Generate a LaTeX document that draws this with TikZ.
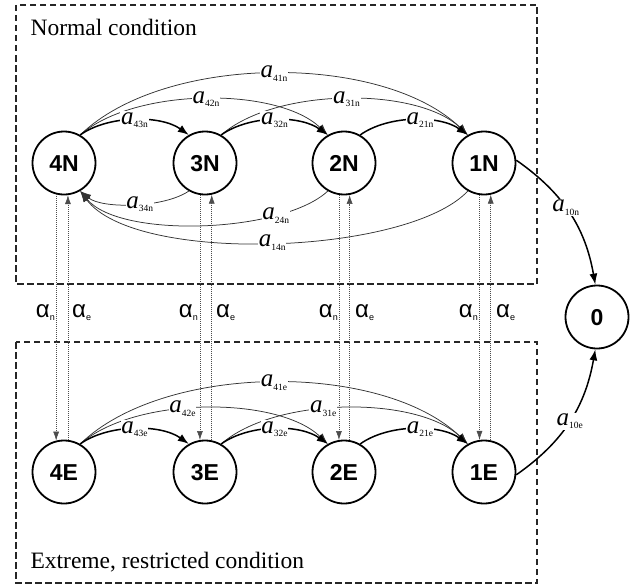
\documentclass[tikz,border=0pt]{standalone}
\usepackage{fontspec}
\setmainfont{Liberation Serif}
\newfontfamily\statefont{Liberation Sans}
\usetikzlibrary{arrows.meta}

% transition rate label: italic a with an upright subscript
\newcommand\rate[1]{{\fontsize{25}{25}\selectfont\textit{a}}{\fontsize{9.5}{9.5}\selectfont\raisebox{-3.5pt}{#1}}}
% switching rate label: sans alpha with subscript
\newcommand\switchrate[1]{{\statefont\fontsize{24}{24}\selectfont α}{\statefont\fontsize{9}{9}\selectfont\raisebox{-3pt}{#1}}}

\begin{document}
\begin{tikzpicture}[x=1pt,y=-1pt,
  state/.style={circle, draw, line width=1.8pt, minimum size=63pt, inner sep=0pt,
    text height=16.5pt, text depth=0pt,
    font=\statefont\bfseries\fontsize{23}{23}\selectfont},
  major/.style={line width=1.5pt, -{Latex[length=11pt,width=8pt]}},
  minor/.style={line width=0.75pt, draw=black!80, -{Latex[length=11pt,width=8pt]}},
  ratelabel/.style={fill=white, inner sep=0.8pt},
  frame/.style={line width=1.5pt, dash pattern=on 6.5pt off 3.5pt, draw=black!85},
  switchline/.style={line width=0.6pt, draw=black!70, dash pattern=on 1pt off 1pt,
    -{Latex[length=9pt,width=6pt]}},
  caption/.style={anchor=west, font=\fontsize{23.5}{23.5}\selectfont},
]
\useasboundingbox (0,0) rectangle (639,586);

% condition frames
\draw[frame] (16,5) rectangle (537,284);
\draw[frame] (16,342) rectangle (537,583);
\node[caption] (normal) at (27,27) {Normal condition};
\node[caption] (extreme) at (27,562) {Extreme, restricted condition};

% states
\node[state] (4N) at (64,163) {4N};
\node[state] (3N) at (205,163) {3N};
\node[state] (2N) at (344,163) {2N};
\node[state] (1N) at (484,163) {1N};
\node[state] (4E) at (64,472) {4E};
\node[state] (3E) at (205,472) {3E};
\node[state] (2E) at (344,472) {2E};
\node[state] (1E) at (484,472) {1E};
\node[state] (0) at (597,317) {0};

% normal condition: forward transitions
\draw[minor] (4N.60) .. controls +(85,-82) and +(-85,-82) .. (1N.120) node[pos=.5,ratelabel] {\rate{41n}};
\draw[minor] (4N.60) .. controls +(55,-48) and +(-50,-48) .. (2N.120) node[pos=.5,ratelabel] {\rate{42n}};
\draw[minor] (3N.60) .. controls +(55,-48) and +(-50,-48) .. (1N.120) node[pos=.5,ratelabel] {\rate{31n}};
\draw[major] (4N.60) .. controls +(28,-20) and +(-28,-20) .. (3N.120) node[pos=.5,ratelabel] {\rate{43n}};
\draw[major] (3N.60) .. controls +(28,-20) and +(-28,-20) .. (2N.120) node[pos=.5,ratelabel] {\rate{32n}};
\draw[major] (2N.60) .. controls +(28,-20) and +(-28,-20) .. (1N.120) node[pos=.55,ratelabel] {\rate{21n}};

% normal condition: backward transitions
\draw[minor] (3N.240) .. controls +(-25,17) and +(22,18) .. (4N.300) node[pos=.45,ratelabel] {\rate{34n}};
\draw[minor] (2N.240) .. controls +(-45,42) and +(40,48) .. (4N.300) node[pos=.25,ratelabel] {\rate{24n}};
\draw[minor] (1N.240) .. controls +(-60,64) and +(55,74) .. (4N.300) node[pos=.5,ratelabel] {\rate{14n}};

% extreme condition: forward transitions
\draw[minor] (4E.60) .. controls +(85,-82) and +(-85,-82) .. (1E.120) node[pos=.5,ratelabel] {\rate{41e}};
\draw[minor] (4E.60) .. controls +(55,-48) and +(-50,-48) .. (2E.120) node[pos=.42,ratelabel] {\rate{42e}};
\draw[minor] (3E.60) .. controls +(55,-48) and +(-50,-48) .. (1E.120) node[pos=.42,ratelabel] {\rate{31e}};
\draw[major] (4E.60) .. controls +(28,-20) and +(-28,-20) .. (3E.120) node[pos=.5,ratelabel] {\rate{43e}};
\draw[major] (3E.60) .. controls +(28,-20) and +(-28,-20) .. (2E.120) node[pos=.5,ratelabel] {\rate{32e}};
\draw[major] (2E.60) .. controls +(28,-20) and +(-28,-20) .. (1E.120) node[pos=.55,ratelabel] {\rate{21e}};

% absorption
\draw[major] (1N.5) to[out=-35,in=100] node[pos=.45,ratelabel] {\rate{10n}} (0.93);
\draw[major] (1E.-5) to[out=35,in=-100] node[pos=.5,ratelabel] {\rate{10e}} (0.-93);

% switching between conditions
\draw[switchline] (4N.256) -- (4E.104);
\draw[switchline] (4E.83) -- (4N.277);
\draw[switchline] (3N.261) -- (3E.99);
\draw[switchline] (3E.78) -- (3N.282);
\draw[switchline] (2N.261) -- (2E.99);
\draw[switchline] (2E.80) -- (2N.280);
\draw[switchline] (1N.262) -- (1E.98);
\draw[switchline] (1E.78) -- (1N.282);

\node[anchor=east, inner sep=0pt] (an4) at (55,313) {\switchrate{n}};
\node[anchor=west, inner sep=0pt] (ae4) at (72,313) {\switchrate{e}};
\node[anchor=east, inner sep=0pt] (an3) at (198,313) {\switchrate{n}};
\node[anchor=west, inner sep=0pt] (ae3) at (216,313) {\switchrate{e}};
\node[anchor=east, inner sep=0pt] (an2) at (338,313) {\switchrate{n}};
\node[anchor=west, inner sep=0pt] (ae2) at (355,313) {\switchrate{e}};
\node[anchor=east, inner sep=0pt] (an1) at (478,313) {\switchrate{n}};
\node[anchor=west, inner sep=0pt] (ae1) at (496,313) {\switchrate{e}};
\end{tikzpicture}
\end{document}
